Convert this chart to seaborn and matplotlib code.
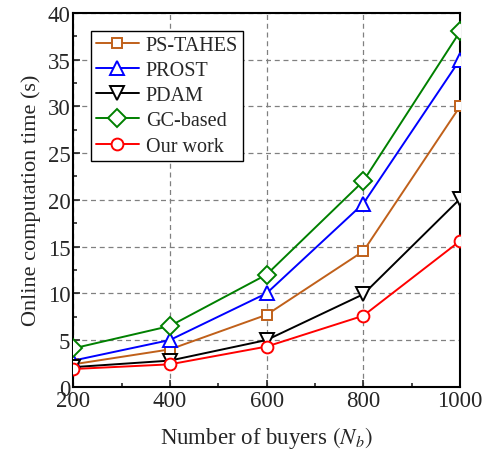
import matplotlib
matplotlib.use("Agg")
import matplotlib.pyplot as plt
import seaborn as sns
import pandas as pd
from matplotlib.ticker import MultipleLocator

buyers = [200, 400, 600, 800, 1000]
ps_tahes = [2.4, 4.0, 7.7, 14.5, 30.0]
prost = [2.8, 5.0, 10.0, 19.6, 35.0]
pdam = [2.1, 2.8, 5.0, 9.9, 20.1]
gc_based = [4.1, 6.5, 12.0, 22.0, 38.0]
our_work = [1.9, 2.4, 4.3, 7.6, 15.6]

# name: (values, colour, marker, marker size)
series = {
    "PS-TAHES": (ps_tahes, "#C0601A", "s", 7.5),
    "PROST": (prost, "#0000FF", "^", 10),
    "PDAM": (pdam, "#000000", "v", 10),
    "GC-based": (gc_based, "#008000", "D", 9.5),
    "Our work": (our_work, "#FF0000", "o", 8.5),
}

rows = []
for name, (vals, _, _, _) in series.items():
    for b, v in zip(buyers, vals):
        rows.append({"buyers": b, "time": v, "method": name})
df = pd.DataFrame(rows)

sns.set_style("ticks")
plt.rcParams["font.family"] = ["Liberation Serif", "DejaVu Serif"]
plt.rcParams["mathtext.fontset"] = "stix"

fig, ax = plt.subplots(figsize=(4.91, 4.60), dpi=100)
fig.subplots_adjust(left=0.149, right=0.937, top=0.970, bottom=0.157)

for name, (vals, color, marker, ms) in series.items():
    sub = df[df["method"] == name]
    sns.lineplot(data=sub, x="buyers", y="time", ax=ax, color=color,
                 marker=marker, markersize=ms, markerfacecolor="white",
                 markeredgecolor=color, markeredgewidth=1.4, linewidth=1.4,
                 label=name, zorder=3)

ax.set_xlim(200, 1000)
ax.set_ylim(0, 40)
ax.xaxis.set_major_locator(MultipleLocator(200))
ax.xaxis.set_minor_locator(MultipleLocator(100))
ax.yaxis.set_major_locator(MultipleLocator(5))
ax.yaxis.set_minor_locator(MultipleLocator(2.5))
ax.tick_params(which="both", direction="in", labelsize=16.5, width=1.2, pad=2)
ax.tick_params(which="major", length=5)
ax.tick_params(which="minor", length=3)
ax.grid(True, which="major", linestyle=(0, (4, 3)), color="#808080", linewidth=0.9)
for s in ax.spines.values():
    s.set_linewidth(1.5)
    s.set_color("black")

ax.set_xlabel("Number of buyers $(N_b)$", fontsize=16.5, labelpad=10)
ax.set_ylabel("Online computation time (s)", fontsize=16, labelpad=5)

leg = ax.legend(loc="upper left", fontsize=14.5, frameon=True, fancybox=False,
                edgecolor="black", framealpha=1, handlelength=2.1,
                borderaxespad=0.9, labelspacing=0.3, borderpad=0.25,
                handletextpad=0.35)
leg.get_frame().set_linewidth(1.0)

fig.savefig("out.png", dpi=100)
